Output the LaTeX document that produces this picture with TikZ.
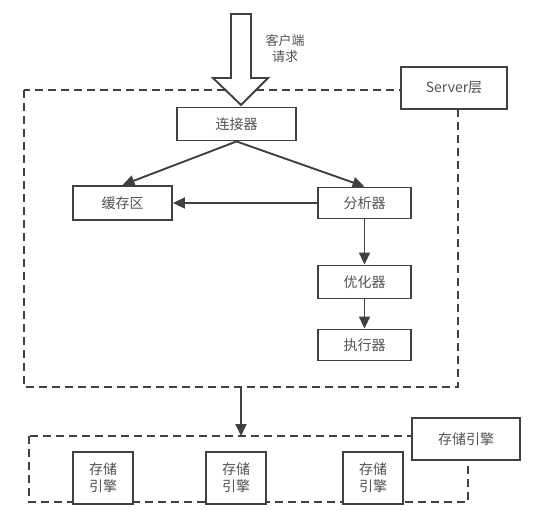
\documentclass[tikz,border=0pt]{standalone}
\usepackage{fontspec}
\setmainfont{Noto Sans CJK SC}
\usetikzlibrary{arrows.meta}
\definecolor{ln}{HTML}{404040}
\begin{document}
\begin{tikzpicture}[x=1pt,y=-1pt,
		box/.style={draw=ln,line width=1.9pt,fill=white,inner sep=0pt,font=\fontsize{14}{17}\selectfont,text=ln!90},
		group/.style={draw=ln,line width=1.9pt,dash pattern=on 8pt off 5pt},
		link/.style={draw=ln,line width=1.9pt,-{Triangle[length=12pt,width=11pt]}}]
	\useasboundingbox (0,0) rectangle (534,510);
	% server and storage groups
	\draw [group] (24,90) rectangle (458,387);
	\draw [group] (29,436) rectangle (468,502);
	% big input arrow
	\draw [draw=ln,line width=1.9pt,fill=white] (231,14) -- (251,14) -- (251,78) -- (268,78) -- (241,105) -- (213,78) -- (231,78) -- cycle;
	\node [font=\fontsize{13}{16}\selectfont,text=ln!90,align=center] (client) at (285,49) {客户端\\请求};
	% server layer
	\node [box,minimum width=106pt,minimum height=42pt] (serverlbl) at (454,88) {Server层};
	\node [box,minimum width=119pt,minimum height=33pt] (conn) at (236.5,124) {连接器};
	\node [box,minimum width=99pt,minimum height=34pt] (cache) at (122.5,203) {缓存区};
	\node [box,minimum width=93pt,minimum height=31pt] (parser) at (364.5,203) {分析器};
	\node [box,minimum width=93pt,minimum height=33pt] (opt) at (364.5,282) {优化器};
	\node [box,minimum width=93pt,minimum height=31pt] (exec) at (364.5,345) {执行器};
	\draw [link] (conn.south) -- (cache.north);
	\draw [link] (conn.south) -- (parser.north);
	\draw [link] (parser.west) -- (cache.east);
	\draw [link] (parser.south) -- (opt.north);
	\draw [link] (opt.south) -- (exec.north);
	% storage engines
	\coordinate (srvout) at (241,387);
	\coordinate (stoin) at (241,436);
	\draw [link] (srvout) -- (stoin);
	\node [box,minimum width=108pt,minimum height=42pt] (storagelbl) at (466,439) {存储引擎};
	\node [box,minimum width=60pt,minimum height=52pt,align=center] (eng1) at (103,478) {存储\\引擎};
	\node [box,minimum width=60pt,minimum height=52pt,align=center] (eng2) at (236,478) {存储\\引擎};
	\node [box,minimum width=60pt,minimum height=52pt,align=center] (eng3) at (373,478) {存储\\引擎};
\end{tikzpicture}
\end{document}
